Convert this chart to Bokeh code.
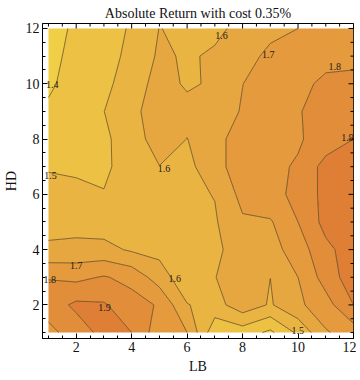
import numpy as np
from bokeh.plotting import figure
from bokeh.models import Range1d, FixedTicker, ColumnDataSource
from bokeh.core.properties import value
from bokeh.embed import file_html
from bokeh.resources import INLINE

# grid coordinates
lb = [1, 2, 3, 4, 5, 6, 7, 8, 9, 10, 11, 12]
hd = [1, 2, 3, 4, 5, 6, 7, 8, 9, 10, 11, 12]

# absolute return per HD row (LB = 1..12)
hd_01 = [1.77, 1.85, 1.93, 1.90, 1.74, 1.70, 1.43, 1.45, 1.38, 1.52, 1.69, 1.75]
hd_02 = [1.85, 1.92, 1.91, 1.84, 1.79, 1.605, 1.56, 1.66, 1.59, 1.68, 1.76, 1.90]
hd_03 = [1.795, 1.775, 1.808, 1.77, 1.65, 1.53, 1.598, 1.64, 1.6005, 1.70, 1.843, 1.957]
hd_04 = [1.615, 1.63, 1.63, 1.587, 1.57, 1.565, 1.585, 1.635, 1.66, 1.75, 1.875, 1.95]
hd_05 = [1.57, 1.56, 1.55, 1.55, 1.56, 1.575, 1.59, 1.686, 1.69, 1.80, 1.933, 1.97]
hd_06 = [1.54, 1.5225, 1.503, 1.53, 1.56, 1.58, 1.6035, 1.732, 1.775, 1.82, 1.934, 1.97]
hd_07 = [1.49, 1.485, 1.488, 1.53, 1.597, 1.57, 1.67, 1.745, 1.78, 1.809, 1.939, 1.96]
hd_08 = [1.44, 1.47, 1.49, 1.528, 1.672, 1.598, 1.67, 1.745, 1.77, 1.79, 1.84, 1.90]
hd_09 = [1.41, 1.46, 1.499, 1.57, 1.66, 1.64, 1.66, 1.706, 1.74, 1.795, 1.83, 1.86]
hd_10 = [1.39, 1.425, 1.485, 1.53, 1.651, 1.583, 1.617, 1.699, 1.735, 1.77, 1.823, 1.815]
hd_11 = [1.38, 1.42, 1.47, 1.52, 1.616, 1.589, 1.613, 1.65, 1.73, 1.74, 1.765, 1.785]
hd_12 = [1.37, 1.413, 1.46, 1.51, 1.602, 1.582, 1.58, 1.625, 1.665, 1.70, 1.735, 1.765]

levels = [1.3, 1.4, 1.5, 1.6, 1.7, 1.8, 1.9, 2.0]
band_colors = ["#F0CF47", "#EDC244", "#EAB442", "#E7A740", "#E59A3D", "#E28D3A", "#DF7F36"]

# contour labels
label_lb = [1.14, 1.07, 5.17, 7.24, 8.93, 11.32, 11.78, 2.0, 1.05, 5.55, 3.02, 9.99]
label_hd = [9.99, 6.68, 6.95, 11.76, 11.06, 10.62, 8.06, 3.41, 2.91, 2.94, 1.91, 1.08]
label_text = ["1.4", "1.5", "1.6", "1.6", "1.7", "1.8", "1.9", "1.7", "1.8", "1.6", "1.9", "1.5"]

x_ticks = [2, 4, 6, 8, 10, 12]
y_ticks = [2, 4, 6, 8, 10, 12]
minor = [1.0 + 0.5 * k for k in range(23)]

z = np.array([hd_01, hd_02, hd_03, hd_04, hd_05, hd_06,
              hd_07, hd_08, hd_09, hd_10, hd_11, hd_12])

SERIF = "Liberation Serif"

xr = Range1d(0.785, 12.0)
yr = Range1d(0.785, 12.18)
p = figure(width=356, height=376, output_backend="svg", toolbar_location=None,
           x_range=xr, y_range=yr,
           title="Absolute Return with cost 0.35%",
           min_border_left=0, min_border_right=3, min_border_top=0, min_border_bottom=3)
p.grid.visible = False
p.outline_line_color = "black"
p.outline_line_width = 1
p.background_fill_color = "white"

p.title.text_font = SERIF
p.title.text_font_size = "14px"
p.title.text_font_style = "normal"
p.title.align = "center"
p.title.text_color = "#111111"
p.title.standoff = 6

p.contour(lb, hd, z, levels=levels, fill_color=band_colors,
          line_color="#4a3612", line_alpha=0.65, line_width=1)

src = ColumnDataSource(dict(x=label_lb, y=label_hd, t=label_text))
p.text(x="x", y="y", text="t", source=src, text_font=value(SERIF),
       text_font_size="10px", text_align="center", text_baseline="middle",
       text_color="#1a1a1a")

# mirrored inward ticks on the top and right frame edges
minor_x = [m for m in minor if m not in x_ticks]
minor_y = [m for m in minor if m not in y_ticks]
p.scatter(x=x_ticks, y=[yr.end] * len(x_ticks), marker="dash", angle=np.pi / 2,
          size=10, line_color="black", line_width=1)
p.scatter(x=minor_x, y=[yr.end] * len(minor_x), marker="dash", angle=np.pi / 2,
          size=6, line_color="black", line_width=1)
p.scatter(x=[xr.end] * len(y_ticks), y=y_ticks, marker="dash",
          size=10, line_color="black", line_width=1)
p.scatter(x=[xr.end] * len(minor_y), y=minor_y, marker="dash",
          size=6, line_color="black", line_width=1)

def style_axis(ax, ticks):
    ax.ticker = FixedTicker(ticks=ticks, minor_ticks=minor)
    ax.major_tick_in = 5
    ax.major_tick_out = 0
    ax.minor_tick_in = 3
    ax.minor_tick_out = 0
    ax.axis_line_color = "black"
    ax.major_tick_line_color = "black"
    ax.minor_tick_line_color = "black"
    ax.major_label_text_font = SERIF
    ax.major_label_text_font_size = "14px"
    ax.major_label_text_color = "#111111"
    ax.major_label_standoff = 3
    ax.axis_label_text_font = SERIF
    ax.axis_label_text_font_size = "14px"
    ax.axis_label_text_font_style = "normal"
    ax.axis_label_text_color = "#111111"
    ax.axis_label_standoff = 4

p.xaxis.axis_label = "LB"
p.yaxis.axis_label = "HD"
style_axis(p.xaxis[0], x_ticks)
style_axis(p.yaxis[0], y_ticks)

open("out.html", "w").write(file_html(p, INLINE))
